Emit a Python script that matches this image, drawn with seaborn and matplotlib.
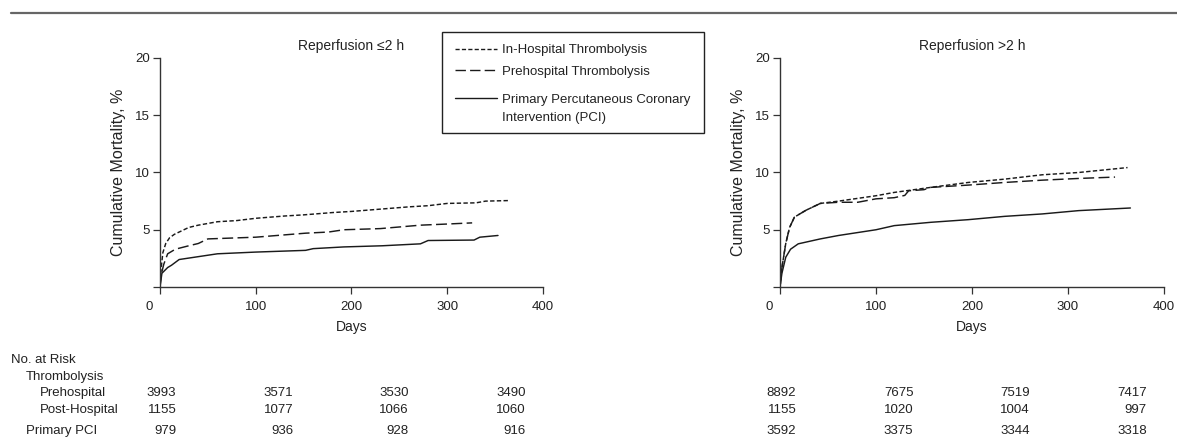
import matplotlib
matplotlib.use("Agg")
import matplotlib.pyplot as plt
import matplotlib.transforms as mtransforms
from matplotlib.lines import Line2D
from matplotlib.patches import Rectangle
import seaborn as sns
import pandas as pd

sns.set_theme(style="white")
plt.rcParams['font.family'] = ['Liberation Sans Narrow', 'Liberation Sans', 'DejaVu Sans']

# ---------------- data ----------------
series_names = ["In-Hospital Thrombolysis", "Prehospital Thrombolysis",
                "Primary Percutaneous Coronary\nIntervention (PCI)"]
panel_titles = ["Reperfusion \u22642 h", "Reperfusion >2 h"]

# Panel 1: reperfusion <= 2 h
p1_inhosp_days = [0, 1, 3, 6, 10, 15, 20, 30, 40, 60, 80, 100, 130, 150, 180, 200, 230, 260, 280, 300, 330, 340, 365]
p1_inhosp_mort = [0, 1.5, 3.0, 3.8, 4.3, 4.6, 4.8, 5.2, 5.4, 5.7, 5.8, 6.0, 6.2, 6.3, 6.5, 6.6, 6.8, 7.0, 7.1, 7.3, 7.35, 7.5, 7.55]
p1_prehosp_days = [0, 1, 4, 8, 16, 30, 40, 50, 100, 152, 176, 192, 230, 272, 300, 326]
p1_prehosp_mort = [0, 1.0, 2.0, 2.9, 3.3, 3.6, 3.8, 4.2, 4.35, 4.7, 4.8, 5.0, 5.1, 5.4, 5.5, 5.6]
p1_pci_days = [0, 2, 8, 12, 20, 44, 60, 100, 152, 160, 192, 232, 272, 280, 328, 334, 353]
p1_pci_mort = [0, 1.2, 1.7, 1.9, 2.4, 2.7, 2.9, 3.05, 3.2, 3.35, 3.5, 3.6, 3.77, 4.06, 4.1, 4.35, 4.5]

# Panel 2: reperfusion > 2 h
p2_inhosp_days = [0, 2, 6, 10, 15, 27, 42, 61, 100, 119, 157, 196, 234, 273, 311, 362]
p2_inhosp_mort = [0, 1.7, 3.8, 5.2, 6.1, 6.7, 7.3, 7.5, 7.97, 8.26, 8.7, 9.13, 9.42, 9.8, 10.0, 10.43]
p2_prehosp_days = [0, 2, 6, 10, 15, 27, 42, 61, 81, 100, 119, 130, 134, 150, 157, 196, 234, 273, 311, 349]
p2_prehosp_mort = [0, 1.7, 3.8, 5.2, 6.1, 6.7, 7.3, 7.4, 7.4, 7.7, 7.8, 8.0, 8.4, 8.5, 8.7, 8.9, 9.13, 9.33, 9.48, 9.6]
p2_pci_days = [0, 2, 6, 11, 19, 42, 61, 100, 119, 157, 196, 234, 273, 311, 365]
p2_pci_mort = [0, 1.2, 2.6, 3.3, 3.77, 4.2, 4.5, 5.0, 5.36, 5.65, 5.88, 6.17, 6.38, 6.67, 6.9]

# Number at risk table
risk_days = [0, 122, 243, 365]
risk_row_labels = ["No. at Risk", "Thrombolysis", "Prehospital", "Post-Hospital", "Primary PCI"]
p1_risk_prehosp = [3993, 3571, 3530, 3490]
p1_risk_posthosp = [1155, 1077, 1066, 1060]
p1_risk_pci = [979, 936, 928, 916]
p2_risk_prehosp = [8892, 7675, 7519, 7417]
p2_risk_posthosp = [1155, 1020, 1004, 997]
p2_risk_pci = [3592, 3375, 3344, 3318]

# ---------------- figure ----------------
W, H = 1177, 447
fig = plt.figure(figsize=(W / 100, H / 100), dpi=100)

def fx(px):
    return px / W

def fy(py):
    return 1 - py / H

ax1 = fig.add_axes([fx(160), fy(287), fx(543) - fx(160), fy(58) - fy(287)])
ax2 = fig.add_axes([fx(780), fy(287), fx(1164) - fx(780), fy(58) - fy(287)])

line_color = "#1a1a1a"
text_color = "#222222"
styles = [(0, (3, 1.6)), (0, (7.5, 3)), "-"]

panels = [
    (ax1, [(p1_inhosp_days, p1_inhosp_mort), (p1_prehosp_days, p1_prehosp_mort), (p1_pci_days, p1_pci_mort)]),
    (ax2, [(p2_inhosp_days, p2_inhosp_mort), (p2_prehosp_days, p2_prehosp_mort), (p2_pci_days, p2_pci_mort)]),
]

tick_fs = 9.5
for k, (ax, data) in enumerate(panels):
    for (d, m), ls in zip(data, styles):
        df = pd.DataFrame({"Days": d, "Mortality": m})
        sns.lineplot(data=df, x="Days", y="Mortality", ax=ax, color=line_color,
                     linewidth=1.05, linestyle=ls, estimator=None, sort=False, legend=False)
    ax.set_xlim(0, 400)
    ax.set_ylim(0, 20)
    ax.set_xticks([0, 100, 200, 300, 400])
    ax.set_yticks([0, 5, 10, 15, 20])
    ax.set_yticklabels(["", "5", "10", "15", "20"])
    for s in ["top", "right"]:
        ax.spines[s].set_visible(False)
    for s in ["left", "bottom"]:
        ax.spines[s].set_color("#333333")
        ax.spines[s].set_linewidth(1.0)
    ax.tick_params(axis="both", direction="out", length=5, width=0.9, color="#333333",
                   labelsize=tick_fs, labelcolor=text_color, pad=2, left=True, bottom=True)
    ax.tick_params(axis="x", pad=5)
    lbl0 = ax.get_xticklabels()[0]
    lbl0.set_transform(lbl0.get_transform() + mtransforms.ScaledTranslation(-11 / 100, 0, fig.dpi_scale_trans))
    ax.set_xlabel("Days", fontsize=10, color=text_color, labelpad=5)
    ax.set_ylabel("Cumulative Mortality, %", fontsize=11.5, color=text_color, labelpad=7)
    ax.set_title(panel_titles[k], fontsize=10, color=text_color, pad=6)
    ax.patch.set_alpha(0)

# legend box (drawn by hand for exact spacing)
fig.add_artist(Rectangle((fx(442), fy(133)), fx(704) - fx(442), fy(32) - fy(133),
                         transform=fig.transFigure, fill=False, edgecolor="#222222", lw=1.0))
legend_rows = [49, 70, 98]
for ls, name, yy in zip(styles, series_names, legend_rows):
    fig.add_artist(Line2D([fx(455), fx(497)], [fy(yy), fy(yy)], color=line_color, lw=1.0, linestyle=ls))
    fig.text(fx(502), fy(yy - 4.5), name, fontsize=9.5, color=text_color, ha="left", va="top",
             linespacing=1.75)

# top rule
fig.add_artist(Line2D([fx(11), 1.0], [fy(13), fy(13)], color="#666666", lw=1.6))

# number at risk table
row_y = [360, 377, 393, 410, 431]
row_x = [11, 26, 40, 40, 26]
for lab, yy, xx in zip(risk_row_labels, row_y, row_x):
    fig.text(fx(xx), fy(yy), lab, fontsize=9.5, color=text_color, ha="left", va="center")

table = [
    (ax1, [p1_risk_prehosp, p1_risk_posthosp, p1_risk_pci]),
    (ax2, [p2_risk_prehosp, p2_risk_posthosp, p2_risk_pci]),
]
for ax, rows in table:
    tr = mtransforms.blended_transform_factory(ax.transData, fig.transFigure)
    for vals, yy in zip(rows, row_y[2:]):
        for dd, v in zip(risk_days, vals):
            ax.text(dd + 17, fy(yy), f"{v}", transform=tr, fontsize=9.5, color=text_color,
                    ha="right", va="center", clip_on=False)

fig.savefig("out.png", dpi=100, facecolor="white")
